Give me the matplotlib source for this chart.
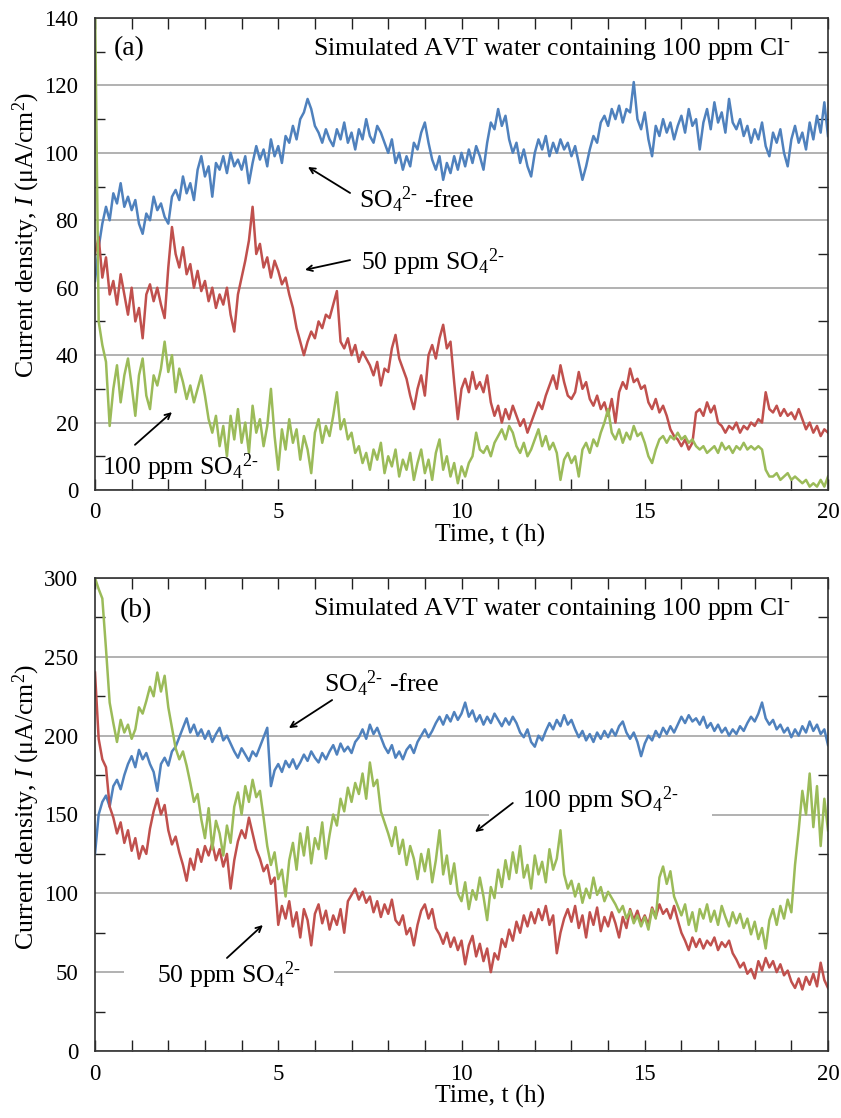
import numpy as np
import matplotlib
matplotlib.use("Agg")
import matplotlib.pyplot as plt
from matplotlib.ticker import MultipleLocator

plt.rcParams['font.family'] = ['Liberation Serif', 'DejaVu Serif']
plt.rcParams['mathtext.fontset'] = 'custom'
plt.rcParams['mathtext.rm'] = 'Liberation Serif'
plt.rcParams['mathtext.it'] = 'Liberation Serif:italic'

# tijdas (h), elke 0.1 h
t = np.round(np.arange(0, 20.05, 0.1), 1)

# (a) stroomdichtheid, uA/cm2
a_free = [62, 72, 79, 84, 80, 88, 85, 91, 84, 87,
          83, 86, 79, 76, 82, 80, 87, 83, 85, 81,
          79, 87, 89, 86, 93, 88, 91, 86, 95, 99,
          93, 96, 87, 97, 95, 99, 94, 100, 96, 98,
          95, 99, 91, 97, 102, 98, 101, 96, 104, 99,
          102, 97, 105, 103, 108, 104, 110, 112, 116, 113,
          108, 106, 103, 107, 104, 102, 107, 104, 109, 103,
          106, 101, 107, 104, 110, 105, 103, 108, 106, 103,
          100, 104, 97, 100, 95, 99, 96, 103, 101, 106,
          109, 103, 98, 95, 99, 92, 97, 94, 99, 95,
          100, 96, 101, 97, 102, 99, 95, 103, 109, 107,
          113, 108, 111, 104, 100, 103, 97, 101, 96, 93,
          100, 104, 101, 105, 99, 103, 100, 104, 101, 103,
          99, 102, 97, 92, 96, 101, 105, 103, 109, 111,
          108, 113, 110, 114, 109, 113, 112, 121, 110, 107,
          112, 104, 99, 108, 105, 110, 106, 109, 104, 108,
          111, 106, 113, 108, 110, 101, 109, 113, 107, 115,
          109, 112, 106, 116, 109, 107, 110, 105, 108, 103,
          107, 104, 109, 102, 99, 106, 103, 107, 100, 96,
          104, 108, 103, 106, 101, 109, 104, 111, 106, 115,
          105]
a_50 = [70, 75, 63, 69, 58, 62, 55, 64, 58, 52,
        60, 50, 54, 45, 58, 61, 56, 60, 55, 51,
        66, 78, 70, 66, 72, 64, 67, 60, 65, 59,
        62, 56, 60, 54, 58, 55, 60, 52, 47, 58,
        63, 68, 74, 84, 70, 73, 66, 69, 63, 68,
        65, 61, 63, 58, 54, 48, 44, 40, 44, 47,
        45, 50, 48, 52, 51, 55, 59, 44, 42, 45,
        40, 43, 38, 41, 39, 37, 34, 38, 31, 36,
        35, 42, 46, 39, 36, 33, 28, 24, 30, 34,
        28, 40, 43, 39, 45, 49, 42, 44, 32, 21,
        30, 33, 29, 35, 30, 32, 29, 34, 26, 22,
        25, 20, 24, 21, 25, 22, 19, 21, 17, 20,
        23, 26, 24, 28, 31, 34, 30, 37, 32, 28,
        27, 29, 35, 30, 32, 27, 25, 28, 24, 26,
        22, 27, 20, 29, 32, 30, 36, 32, 33, 30,
        31, 26, 24, 27, 23, 25, 22, 18, 16, 15,
        13, 15, 12, 14, 23, 24, 22, 26, 23, 25,
        20, 19, 17, 19, 18, 20, 17, 19, 18, 20,
        19, 21, 20, 29, 24, 23, 25, 22, 24, 22,
        23, 21, 24, 21, 18, 20, 17, 19, 16, 18,
        17]
a_100 = [145, 50, 43, 38, 19, 30, 37, 26, 34, 39,
         31, 22, 34, 39, 28, 24, 34, 31, 36, 44,
         35, 40, 29, 36, 32, 27, 31, 26, 30, 34,
         28, 21, 17, 22, 13, 19, 10, 22, 15, 24,
         14, 20, 11, 25, 17, 21, 13, 19, 30, 16,
         6, 18, 12, 21, 14, 18, 9, 16, 12, 5,
         17, 21, 14, 19, 16, 22, 29, 18, 21, 15,
         17, 11, 13, 8, 11, 6, 12, 9, 14, 5,
         10, 7, 12, 4, 9, 6, 11, 3, 8, 12,
         5, 9, 3, 11, 15, 6, 10, 4, 8, 2,
         7, 4, 8, 10, 17, 12, 11, 13, 10, 14,
         16, 18, 15, 19, 17, 13, 11, 14, 10, 12,
         15, 18, 13, 16, 12, 14, 11, 3, 9, 11,
         8, 10, 4, 12, 14, 11, 15, 13, 17, 20,
         24, 17, 15, 18, 14, 17, 15, 19, 16, 17,
         14, 10, 8, 12, 15, 16, 14, 16, 15, 17,
         15, 16, 14, 15, 13, 12, 13, 11, 12, 13,
         11, 14, 12, 13, 11, 13, 12, 14, 12, 13,
         12, 13, 12, 6, 4, 4, 5, 3, 4, 5,
         3, 4, 3, 2, 3, 1, 2, 1, 3, 1,
         4]

# (b) stroomdichtheid, uA/cm2
b_free = [125, 150, 158, 162, 155, 168, 172, 166, 175, 182,
          187, 180, 191, 185, 189, 182, 177, 165, 182, 186,
          181, 190, 193, 199, 205, 211, 202, 207, 200, 204,
          198, 203, 196, 201, 205, 197, 200, 195, 190, 186,
          192, 188, 184, 190, 187, 193, 199, 205, 168, 178,
          182, 177, 184, 180, 185, 179, 183, 188, 184, 190,
          186, 183, 189, 185, 190, 194, 188, 195, 190, 193,
          189, 196, 199, 204, 198, 207, 201, 205, 199, 193,
          189, 194, 186, 190, 185, 191, 194, 189, 196, 200,
          204, 199, 203, 208, 212, 207, 213, 209, 215, 210,
          214, 221, 212, 216, 209, 213, 207, 212, 208, 214,
          210, 206, 211, 207, 212, 208, 202, 199, 204, 196,
          193, 200, 197, 203, 208, 204, 210, 206, 213, 207,
          210, 204, 199, 203, 197, 201, 196, 202, 198, 203,
          199, 204, 200, 206, 209, 202, 198, 202, 196, 187,
          195, 200, 197, 203, 199, 205, 201, 206, 202, 207,
          212, 208, 213, 209, 211, 207, 212, 205, 208, 203,
          207, 202, 205, 200, 204, 201, 206, 203, 208, 212,
          209, 214, 221, 211, 207, 210, 204, 207, 202, 205,
          199, 204, 200, 206, 202, 209, 203, 207, 201, 204,
          194]
b_50 = [240, 198, 185, 180, 155, 148, 138, 145, 132, 140,
        127, 135, 122, 130, 125, 141, 152, 160, 150, 156,
        140, 131, 136, 126, 118, 108, 122, 115, 128, 120,
        130, 124, 132, 121, 128, 117, 125, 103, 121, 133,
        140, 135, 148, 138, 128, 122, 114, 118, 106, 110,
        80, 92, 84, 95, 79, 88, 72, 90, 83, 67,
        87, 93, 81, 89, 77, 86, 80, 90, 75, 95,
        99, 103, 96, 101, 94, 98, 88, 95, 85, 93,
        87, 96, 83, 80, 86, 74, 78, 67, 80, 89,
        93, 84, 90, 78, 74, 68, 75, 66, 72, 64,
        70, 55, 67, 73, 60, 68, 57, 65, 50, 62,
        58, 71, 66, 77, 70, 82, 75, 86, 79, 88,
        81, 90, 83, 92, 80, 86, 62, 75, 84, 90,
        82, 92, 78, 86, 72, 88, 80, 91, 76, 85,
        79, 88, 81, 72, 85, 78, 90, 83, 89, 81,
        86, 80, 91, 85, 93, 87, 90, 84, 92, 83,
        75, 70, 64, 72, 66, 71, 65, 70, 67, 72,
        64, 69, 66, 70, 62, 58, 53, 56, 49, 52,
        46, 57, 51, 59, 53, 57, 50, 55, 48, 51,
        44, 40, 46, 39, 47, 42, 49, 41, 56, 45,
        40]
b_100 = [300, 293, 287, 255, 221, 208, 196, 210, 202, 207,
         198, 204, 218, 214, 222, 231, 225, 240, 228, 238,
         218, 205, 192, 185, 190, 181, 170, 158, 163, 147,
         135, 154, 128, 146, 138, 124, 143, 132, 155, 164,
         150, 168, 158, 172, 161, 165, 148, 130, 118, 126,
         109, 115, 98, 121, 132, 115, 138, 124, 142, 119,
         135, 128, 145, 122, 137, 150, 143, 160, 152, 167,
         158, 170, 163, 176, 160, 183, 168, 172, 152, 145,
         138, 130, 142, 125, 134, 118, 130, 122, 109, 125,
         114, 128, 107, 121, 140, 112, 124, 106, 119, 100,
         95, 107, 90, 102, 96, 110, 98, 83, 104, 97,
         115, 104, 121, 109, 126, 113, 130, 110, 118, 103,
         124, 112, 120, 107, 128, 115, 122, 140, 112, 103,
         108, 98, 106, 94, 103, 97, 110, 99, 104, 95,
         101, 97, 93, 88, 92, 84, 89, 81, 86, 79,
         85, 77, 90, 84, 110, 117, 106, 114, 98, 92,
         86, 93, 80, 88, 76, 90, 84, 93, 82, 89,
         80, 92, 85, 79, 88, 81, 87, 78, 84, 74,
         82, 71, 78, 65, 83, 90, 80, 92, 84, 96,
         88, 118, 140, 165, 150, 176, 142, 168, 130, 160,
         140]

BLUE = '#4F81BD'
RED = '#C0504D'
GREEN = '#9BBB59'
FS = 18.5

fig = plt.figure(figsize=(8.41, 11.18), dpi=100)
ax1 = fig.add_axes([95/841, 1 - 490/1118, 733/841, 472/1118])
ax2 = fig.add_axes([95/841, 1 - 1051/1118, 733/841, 473/1118])

ax1.plot(t, a_free, color=BLUE, lw=1.8)
ax1.plot(t, a_50, color=RED, lw=1.8)
ax1.plot(t, a_100, color=GREEN, lw=1.8)

ax2.plot(t, b_free, color=BLUE, lw=1.8)
ax2.plot(t, b_50, color=RED, lw=1.8)
ax2.plot(t, b_100, color=GREEN, lw=1.8)

# assen opmaken
for ax, ymax, ystep in [(ax1, 140, 20), (ax2, 300, 50)]:
    ax.set_xlim(0, 20)
    ax.set_ylim(0, ymax)
    ax.xaxis.set_major_locator(MultipleLocator(5))
    ax.xaxis.set_minor_locator(MultipleLocator(1))
    ax.yaxis.set_major_locator(MultipleLocator(ystep))
    ax.yaxis.set_minor_locator(MultipleLocator(ystep / 2))
    ax.tick_params(axis='x', which='both', direction='in', top=True, length=8,
                   width=1, color='#202020', labelsize=16.5, pad=9)
    ax.tick_params(axis='y', which='major', direction='in', right=True, length=0,
                   labelsize=16.5, pad=12)
    ax.tick_params(axis='y', which='minor', direction='in', right=True, length=7,
                   width=1, color='#202020')
    ax.grid(axis='y', which='major', color='#ABABAB', lw=1.3)
    ax.set_axisbelow(True)
    for s in ax.spines.values():
        s.set_color('#303030')
        s.set_linewidth(1.2)
    ax.set_xlabel('Time, t (h)', fontsize=FS)
    ax.set_ylabel(r'Current density, $I$ (μA/cm$^2$)', fontsize=FS)
    ax.xaxis.set_label_coords(0.539, -0.072)
    ax.text(19.0, ymax * 0.935, r'Simulated AVT water containing 100 ppm Cl$^{\text{-}}$',
            fontsize=FS, ha='right', va='center')

ax1.yaxis.set_label_coords(-0.072, 0.54)
ax2.yaxis.set_label_coords(-0.072, 0.516)

SO4 = r'SO$_4$$^{2\text{-}}$'
arrow = dict(arrowstyle='->', color='black', lw=1.3, shrinkA=0, shrinkB=0)

# (a)
ax1.text(0.5, 131, '(a)', fontsize=20, ha='left', va='center')
ax1.annotate('', xy=(5.81, 95.8), xytext=(6.96, 88.1), arrowprops=arrow)
ax1.text(7.2, 86, SO4 + ' -free', fontsize=FS, ha='left', va='center')
ax1.annotate('', xy=(5.73, 65.3), xytext=(6.96, 68.2), arrowprops=arrow)
ax1.text(7.25, 67.7, '50 ppm ' + SO4, fontsize=FS, ha='left', va='center')
ax1.annotate('', xy=(2.10, 23.1), xytext=(1.09, 13.4), arrowprops=arrow)
ax1.text(0.2, 6.8, '100 ppm ' + SO4, fontsize=FS, ha='left', va='center')

# (b)
ax2.text(0.68, 279.6, '(b)', fontsize=20, ha='left', va='center')
ax2.annotate('', xy=(5.29, 204.8), xytext=(6.47, 222.6), arrowprops=arrow)
ax2.text(6.25, 233, SO4 + ' -free', fontsize=FS, ha='left', va='center')
ax2.annotate('', xy=(10.37, 138.9), xytext=(11.4, 157.3), arrowprops=arrow)
ax2.text(11.65, 159, '100 ppm ' + SO4, fontsize=FS, ha='left', va='center', zorder=1.5,
         bbox=dict(boxstyle='square,pad=1.3', fc='white', ec='none'))
ax2.annotate('', xy=(4.58, 79.9), xytext=(3.6, 59), arrowprops=arrow)
ax2.text(1.69, 48.2, '50 ppm ' + SO4, fontsize=FS, ha='left', va='center', zorder=1.5,
         bbox=dict(boxstyle='square,pad=1.3', fc='white', ec='none'))

plt.savefig('out.png', dpi=100)
